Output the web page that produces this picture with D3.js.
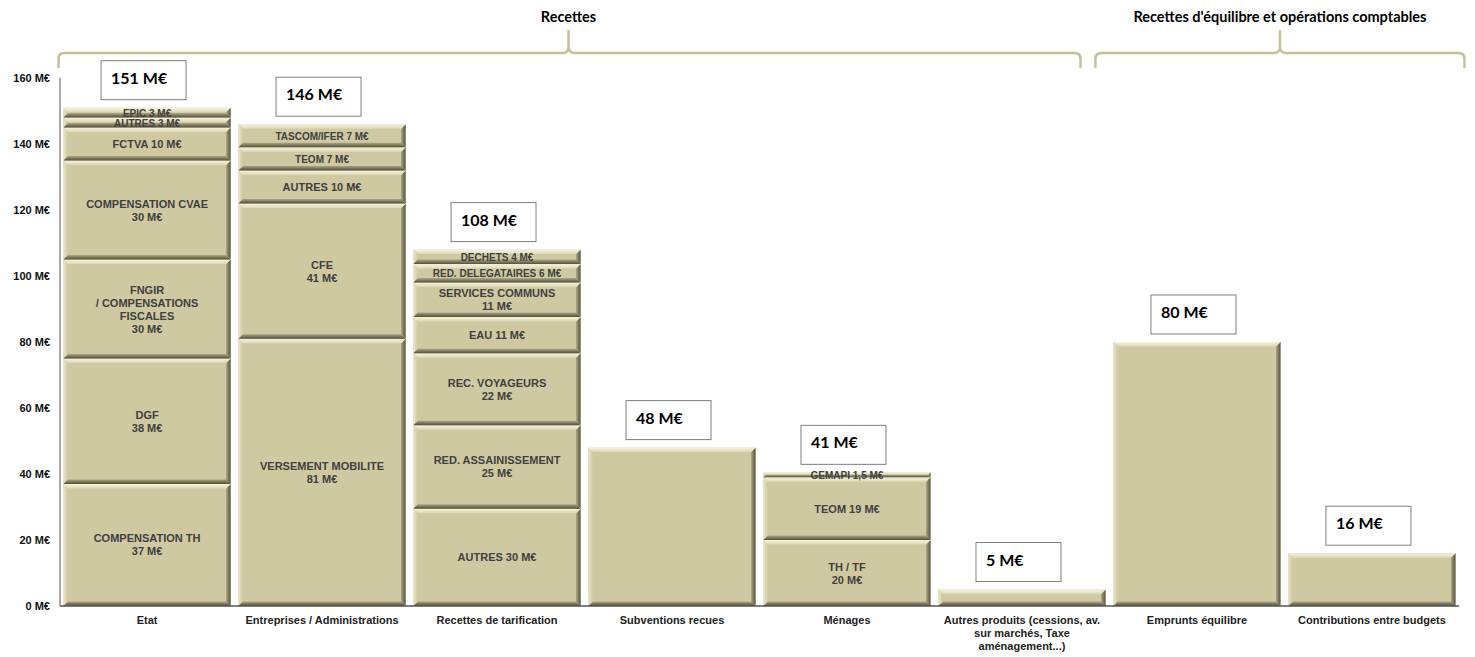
<!DOCTYPE html>
<html>
<head>
<meta charset="utf-8">
<script src="https://cdn.jsdelivr.net/npm/d3@7"></script>
<style>
  body { margin: 0; background: #fff; }
  svg { display: block; }
</style>
</head>
<body>
<svg id="chart" width="1475" height="657"></svg>
<script>
// Categories (| marks a line break in the axis label)
const categories = [
  "Etat",
  "Entreprises / Administrations",
  "Recettes de tarification",
  "Subventions recues",
  "Ménages",
  "Autres produits (cessions, av.|sur marchés, Taxe|aménagement...)",
  "Emprunts équilibre",
  "Contributions entre budgets"
]

// Stacked segments, bottom to top, for each category (M€)
const etatValues = [37, 38, 30, 30, 10, 3, 3]
const etatLabels = ["COMPENSATION TH|37 M€", "DGF|38 M€", "FNGIR|/ COMPENSATIONS|FISCALES|30 M€",
  "COMPENSATION CVAE|30 M€", "FCTVA 10 M€", "AUTRES 3 M€", "EPIC 3 M€"]

const entreprisesValues = [81, 41, 10, 7, 7]
const entreprisesLabels = ["VERSEMENT MOBILITE|81 M€", "CFE|41 M€", "AUTRES 10 M€", "TEOM 7 M€", "TASCOM/IFER 7 M€"]

const tarifValues = [29.5, 25.3, 21.8, 11, 10.4, 5.6, 4.4]
const tarifLabels = ["AUTRES 30 M€", "RED. ASSAINISSEMENT|25 M€", "REC. VOYAGEURS|22 M€", "EAU 11 M€",
  "SERVICES COMMUNS|11 M€", "RED. DELEGATAIRES 6 M€", "DECHETS 4 M€"]

const subventionsValues = [48]
const subventionsLabels = [""]

const menagesValues = [20, 19, 1.5]
const menagesLabels = ["TH / TF|20 M€", "TEOM 19 M€", "GEMAPI 1,5 M€"]

const autresValues = [5]
const autresLabels = [""]

const empruntsValues = [80]
const empruntsLabels = [""]

const contributionsValues = [16]
const contributionsLabels = [""]

// Totals shown in the boxes above the bars
const totalLabels = ["151 M€", "146 M€", "108 M€", "48 M€", "41 M€", "5 M€", "80 M€", "16 M€"]

// Y axis ticks
const yTicks = [0, 20, 40, 60, 80, 100, 120, 140, 160]

// Group brackets: first and last category index of each group
const groups = [
  { title: "Recettes", from: 0, to: 5 },
  { title: "Recettes d'équilibre et opérations comptables", from: 6, to: 7 }
]

const seriesValues = [etatValues, entreprisesValues, tarifValues, subventionsValues,
  menagesValues, autresValues, empruntsValues, contributionsValues]
const seriesLabels = [etatLabels, entreprisesLabels, tarifLabels, subventionsLabels,
  menagesLabels, autresLabels, empruntsLabels, contributionsLabels]

// Build stacked segments
const segments = []
seriesValues.forEach((vals, ci) => {
  let base = 0
  vals.forEach((v, si) => {
    segments.push({ cat: categories[ci], y0: base, y1: base + v, label: seriesLabels[ci][si] })
    base += v
  })
})
const totals = seriesValues.map(v => d3.sum(v))

const svg = d3.select("#chart")
const x = d3.scaleBand().domain(categories).range([60, 1459]).paddingInner(0.045).paddingOuter(0.02)
const y = d3.scaleLinear().domain([0, 160]).range([606, 78])
const bw = x.bandwidth()

// Gradients for the bevelled look
const defs = svg.append("defs")
const base = "#cfc9a2"
const grad = (id, x1, y1, x2, y2, c1, c2) => {
  const g = defs.append("linearGradient").attr("id", id)
    .attr("x1", x1).attr("y1", y1).attr("x2", x2).attr("y2", y2)
  g.append("stop").attr("offset", "0%").attr("stop-color", c1)
  g.append("stop").attr("offset", "100%").attr("stop-color", c2)
}
grad("bevTop", 0, 0, 0, 1, "#f7f4de", "#ddd8b5")
grad("bevLeft", 0, 0, 1, 0, "#e8e4c6", base)
grad("bevRight", 0, 0, 1, 0, "#a9a484", "#57533f")
grad("bevBottom", 0, 0, 0, 1, "#aca786", "#514d3a")

// Axes lines
svg.append("line").attr("x1", 60).attr("x2", 60).attr("y1", y(160)).attr("y2", y(0))
  .attr("stroke", "#8c8c8c").attr("stroke-width", 1.5)

svg.append("g").selectAll("text").data(yTicks).enter().append("text")
  .attr("x", 50).attr("y", d => y(d) + 4)
  .attr("text-anchor", "end")
  .style("font", "bold 11px 'Liberation Sans', Arial, sans-serif")
  .attr("fill", "#111")
  .text(d => d + " M€")

// Segments
const segG = svg.append("g").selectAll("g").data(segments).enter().append("g")
segG.each(function (d) {
  const g = d3.select(this)
  const x0 = x(d.cat), x1 = x0 + bw
  const top = y(d.y1), bot = y(d.y0)
  const b = Math.min(4.5, (bot - top) / 2)
  g.append("rect").attr("x", x0).attr("y", top).attr("width", bw).attr("height", bot - top).attr("fill", base)
  const poly = (pts, fill) => g.append("polygon").attr("points", pts.map(p => p.join(",")).join(" ")).attr("fill", fill)
  poly([[x0, top], [x0 + b, top + b], [x0 + b, bot - b], [x0, bot]], "url(#bevLeft)")
  poly([[x1, top], [x1, bot], [x1 - b, bot - b], [x1 - b, top + b]], "url(#bevRight)")
  poly([[x0, top], [x1, top], [x1 - b, top + b], [x0 + b, top + b]], "url(#bevTop)")
  poly([[x0, bot], [x1, bot], [x1 - b, bot - b], [x0 + b, bot - b]], "url(#bevBottom)")

  if (d.label) {
    const lines = d.label.split("|")
    const cy = (top + bot) / 2
    const small = (bot - top) < 24
    g.append("text")
      .attr("text-anchor", "middle")
      .attr("fill", "#404040")
      .style("font", (small ? "bold 10px" : "bold 11px") + " 'Liberation Sans', Arial, sans-serif")
      .selectAll("tspan").data(lines).enter().append("tspan")
      .attr("x", x0 + bw / 2)
      .attr("y", (l, i) => cy - (lines.length - 1) * 6.5 + i * 13 + 4)
      .text(l => l)
  }
})

// Baseline
svg.append("line").attr("x1", 60).attr("x2", 1459).attr("y1", y(0)).attr("y2", y(0))
  .attr("stroke", "#555").attr("stroke-width", 1.5)

// Category labels
svg.append("g").selectAll("text").data(categories).enter().append("text")
  .attr("text-anchor", "middle")
  .attr("fill", "#222")
  .style("font", "bold 11px 'Liberation Sans', Arial, sans-serif")
  .each(function (c) {
    const lines = c.split("|")
    d3.select(this).selectAll("tspan").data(lines).enter().append("tspan")
      .attr("x", x(c) + bw / 2)
      .attr("y", (l, i) => 624 + i * 13)
      .text(l => l)
  })

// Total boxes
const boxW = 85, boxH = 39
const boxes = svg.append("g").selectAll("g").data(categories).enter().append("g")
boxes.append("rect")
  .attr("x", c => x(c) + bw / 2 - 46)
  .attr("y", (c, i) => y(totals[i]) - 8 - boxH)
  .attr("width", boxW).attr("height", boxH)
  .attr("fill", "#fff").attr("stroke", "#7f7f7f").attr("stroke-width", 1)
boxes.append("text")
  .attr("x", c => x(c) + bw / 2 - 36)
  .attr("y", (c, i) => y(totals[i]) - 8 - boxH + 23)
  .style("font", "bold 16px Lato, 'Open Sans', sans-serif")
  .attr("fill", "#000")
  .text((c, i) => totalLabels[i])

// Group brackets
const braceY = 53, braceEnd = 68, braceTip = 30, r = 6
groups.forEach((gr, gi) => {
  const left = x(categories[gr.from]) - 5
  const right = gi == 0 ? x(categories[gr.to]) + bw - 25 : x(categories[gr.to]) + bw + 9
  const leftX = gi == 0 ? left : left - 13
  const mid = (leftX + right) / 2 + (gi == 0 ? -1 : 0)
  const path = `M${leftX},${braceEnd} V${braceY + r} Q${leftX},${braceY} ${leftX + r},${braceY} H${mid - r} Q${mid},${braceY} ${mid},${braceY - r} V${braceTip}` +
    ` M${mid},${braceY - r} Q${mid},${braceY} ${mid + r},${braceY} H${right - r} Q${right},${braceY} ${right},${braceY + r} V${braceEnd}`
  svg.append("path").attr("d", path).attr("fill", "none")
    .attr("stroke", "#c7bf98").attr("stroke-width", 2.5)
  svg.append("text").attr("x", mid).attr("y", 22).attr("text-anchor", "middle")
    .style("font", "bold 14.5px Lato, 'Open Sans', sans-serif")
    .attr("fill", "#000")
    .text(gr.title)
})
</script>
</body>
</html>
